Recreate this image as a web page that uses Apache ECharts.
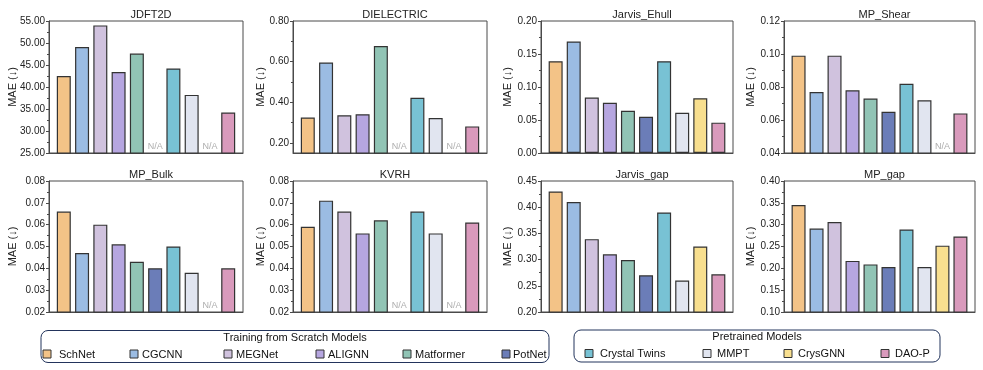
<!DOCTYPE html>
<html>
<head>
<meta charset="utf-8">
<script src="https://cdn.jsdelivr.net/npm/echarts@6/dist/echarts.min.js"></script>
<style>
html,body{margin:0;padding:0;background:#fff;}
#chart{width:983px;height:370px;}
</style>
</head>
<body>
<div id="chart"></div>
<script>
// ---------- DATA ----------
const categories = ['SchNet','CGCNN','MEGNet','ALIGNN','Matformer','PotNet','Crystal Twins','MMPT','CrysGNN','DAO-P'];
const scratchModels = ['SchNet','CGCNN','MEGNet','ALIGNN','Matformer','PotNet'];
const pretrainedModels = ['Crystal Twins','MMPT','CrysGNN','DAO-P'];
const taskNames = ['JDFT2D','DIELECTRIC','Jarvis_Ehull','MP_Shear','MP_Bulk','KVRH','Jarvis_gap','MP_gap'];

const jdft2d      = [42.5, 49.1, 54.0, 43.4, 47.6, null, 44.2, 38.2, null, 34.2];
const dielectric  = [0.325, 0.596, 0.336, 0.341, 0.677, null, 0.422, 0.322, null, 0.281];
const jarvisEhull = [0.139, 0.169, 0.084, 0.076, 0.064, 0.055, 0.139, 0.061, 0.083, 0.046];
const mpShear     = [0.099, 0.077, 0.099, 0.078, 0.073, 0.065, 0.082, 0.072, null, 0.064];
const mpBulk      = [0.066, 0.047, 0.060, 0.051, 0.043, 0.040, 0.050, 0.038, null, 0.040];
const kvrh        = [0.059, 0.071, 0.066, 0.056, 0.062, null, 0.066, 0.056, null, 0.061];
const jarvisGap   = [0.430, 0.410, 0.339, 0.310, 0.299, 0.270, 0.390, 0.260, 0.325, 0.272];
const mpGap       = [0.345, 0.291, 0.306, 0.217, 0.209, 0.203, 0.289, 0.203, 0.252, 0.273];

// y-axis ranges and tick labels
const jdft2dTicks      = [25, 30, 35, 40, 45, 50, 55];
const dielectricTicks  = [0.2, 0.4, 0.6, 0.8];
const jarvisEhullTicks = [0.00, 0.05, 0.10, 0.15, 0.20];
const mpShearTicks     = [0.04, 0.06, 0.08, 0.10, 0.12];
const mpBulkTicks      = [0.02, 0.03, 0.04, 0.05, 0.06, 0.07, 0.08];
const kvrhTicks        = [0.02, 0.03, 0.04, 0.05, 0.06, 0.07, 0.08];
const jarvisGapTicks   = [0.20, 0.25, 0.30, 0.35, 0.40, 0.45];
const mpGapTicks       = [0.10, 0.15, 0.20, 0.25, 0.30, 0.35, 0.40];
const dielectricMin = 0.15;

// ---------- STYLE ----------
const barColors = ['#F3C387','#9BBCE3','#D0C2DE','#B6A6E0','#91C4B5','#6B7DB8','#78C2D4','#E1E5F0','#F8DF8F','#D99ABC'];
const FONT = '"Liberation Sans", Arial, sans-serif';
const panels = [
  {name: taskNames[0], values: jdft2d, ticks: jdft2dTicks},
  {name: taskNames[1], values: dielectric, ticks: dielectricTicks, min: dielectricMin},
  {name: taskNames[2], values: jarvisEhull, ticks: jarvisEhullTicks},
  {name: taskNames[3], values: mpShear, ticks: mpShearTicks},
  {name: taskNames[4], values: mpBulk, ticks: mpBulkTicks},
  {name: taskNames[5], values: kvrh, ticks: kvrhTicks},
  {name: taskNames[6], values: jarvisGap, ticks: jarvisGapTicks},
  {name: taskNames[7], values: mpGap, ticks: mpGapTicks}
];
const colLeft = [49, 293, 541, 784];
const colWidth = [194, 194, 192, 191];
const nameGaps = [31, 27, 28, 28];
const rowTop = [21, 181];
const rowHeight = [132, 131];

const grids = [], xAxes = [], yAxes = [], series = [], titles = [];
panels.forEach((p, i) => {
  const r = Math.floor(i / 4), c = i % 4;
  grids.push({left: colLeft[c], top: rowTop[r], width: colWidth[c], height: rowHeight[r],
    show: true, borderColor: '#4a4a4a', borderWidth: 1, backgroundColor: 'transparent'});
  titles.push({text: p.name, left: colLeft[c] + colWidth[c] / 2, top: rowTop[r] - 17, textAlign: 'center',
    textStyle: {fontSize: 11, fontWeight: 'normal', color: '#222', fontFamily: FONT}});
  xAxes.push({type: 'value', gridIndex: i, min: -0.81, max: 9.81, show: true,
    axisLine: {show: true, onZero: false, lineStyle: {color: '#4a4a4a'}}, axisTick: {show: false},
    axisLabel: {show: false}, splitLine: {show: false}});
  const ymin = p.min !== undefined ? p.min : p.ticks[0];
  const ymax = p.ticks[p.ticks.length - 1];
  const minor = [];
  for (let k = 0; k < p.ticks.length - 1; k++) minor.push((p.ticks[k] + p.ticks[k + 1]) / 2);
  yAxes.push({type: 'value', gridIndex: i, min: ymin, max: ymax,
    name: 'MAE (↓)', nameLocation: 'middle', nameGap: nameGaps[c], nameRotate: 90,
    nameMoveOverlap: false,
    nameTextStyle: {fontSize: 11, color: '#222', fontFamily: FONT},
    axisLine: {show: true, onZero: false, lineStyle: {color: '#4a4a4a'}},
    axisTick: {show: true, length: 3, lineStyle: {color: '#4a4a4a'}, customValues: p.ticks},
    axisLabel: {fontSize: 10, color: '#222', fontFamily: FONT, margin: 4, customValues: p.ticks,
      formatter: v => Number(v).toFixed(2)},
    splitLine: {show: false}});
  yAxes.push({type: 'value', gridIndex: i, min: ymin, max: ymax, position: 'left',
    axisLine: {show: false, onZero: false},
    axisTick: {show: true, length: 2, lineStyle: {color: '#4a4a4a'}, customValues: minor},
    axisLabel: {show: false, customValues: minor}, splitLine: {show: false}});
  const barData = [], naData = [];
  p.values.forEach((v, k) => {
    if (v === null) naData.push([k, ymin]);
    else barData.push({value: [k, v], itemStyle: {color: barColors[k]}});
  });
  series.push({type: 'bar', xAxisIndex: i, yAxisIndex: 2 * i, barWidth: 14, data: barData,
    itemStyle: {borderColor: '#333', borderWidth: 1.2}, silent: true});
  series.push({type: 'scatter', xAxisIndex: i, yAxisIndex: 2 * i, symbolSize: 0, data: naData,
    label: {show: true, position: 'top', distance: 2, formatter: 'N/A', fontSize: 9, color: '#999', fontFamily: FONT},
    silent: true});
});

// ---------- LEGEND (graphic) ----------
const graphics = [];
function legendBox(x, y, w, h, title, names, squareX, textX, offset) {
  graphics.push({type: 'rect', shape: {x: x, y: y, width: w, height: h, r: 7},
    style: {fill: 'none', stroke: '#23345c', lineWidth: 1}});
  graphics.push({type: 'text', x: x + w / 2, y: y + 7, style: {text: title, fill: '#111',
    font: '11px ' + FONT, textAlign: 'center', textVerticalAlign: 'middle'}});
  names.forEach((n, k) => {
    graphics.push({type: 'rect', shape: {x: squareX[k], y: y + 19.5, width: 8, height: 8},
      style: {fill: barColors[offset + k], stroke: '#333', lineWidth: 1}});
    graphics.push({type: 'text', x: textX[k], y: y + 24, style: {text: n, fill: '#111',
      font: '11px ' + FONT, textAlign: 'left', textVerticalAlign: 'middle'}});
  });
}
legendBox(41, 330.5, 508, 32, 'Training from Scratch Models', scratchModels,
  [43, 130, 224, 316, 403, 502], [59, 142, 236, 328, 415, 513], 0);
legendBox(574, 330, 366, 32, 'Pretrained Models', pretrainedModels,
  [585, 703, 784, 881], [600, 717, 798, 895], 6);

const chart = echarts.init(document.getElementById('chart'), null, {renderer: 'canvas'});
chart.setOption({
  animation: false,
  backgroundColor: '#fff',
  textStyle: {fontFamily: FONT},
  title: titles,
  grid: grids,
  xAxis: xAxes,
  yAxis: yAxes,
  series: series,
  graphic: graphics
});
</script>
</body>
</html>
